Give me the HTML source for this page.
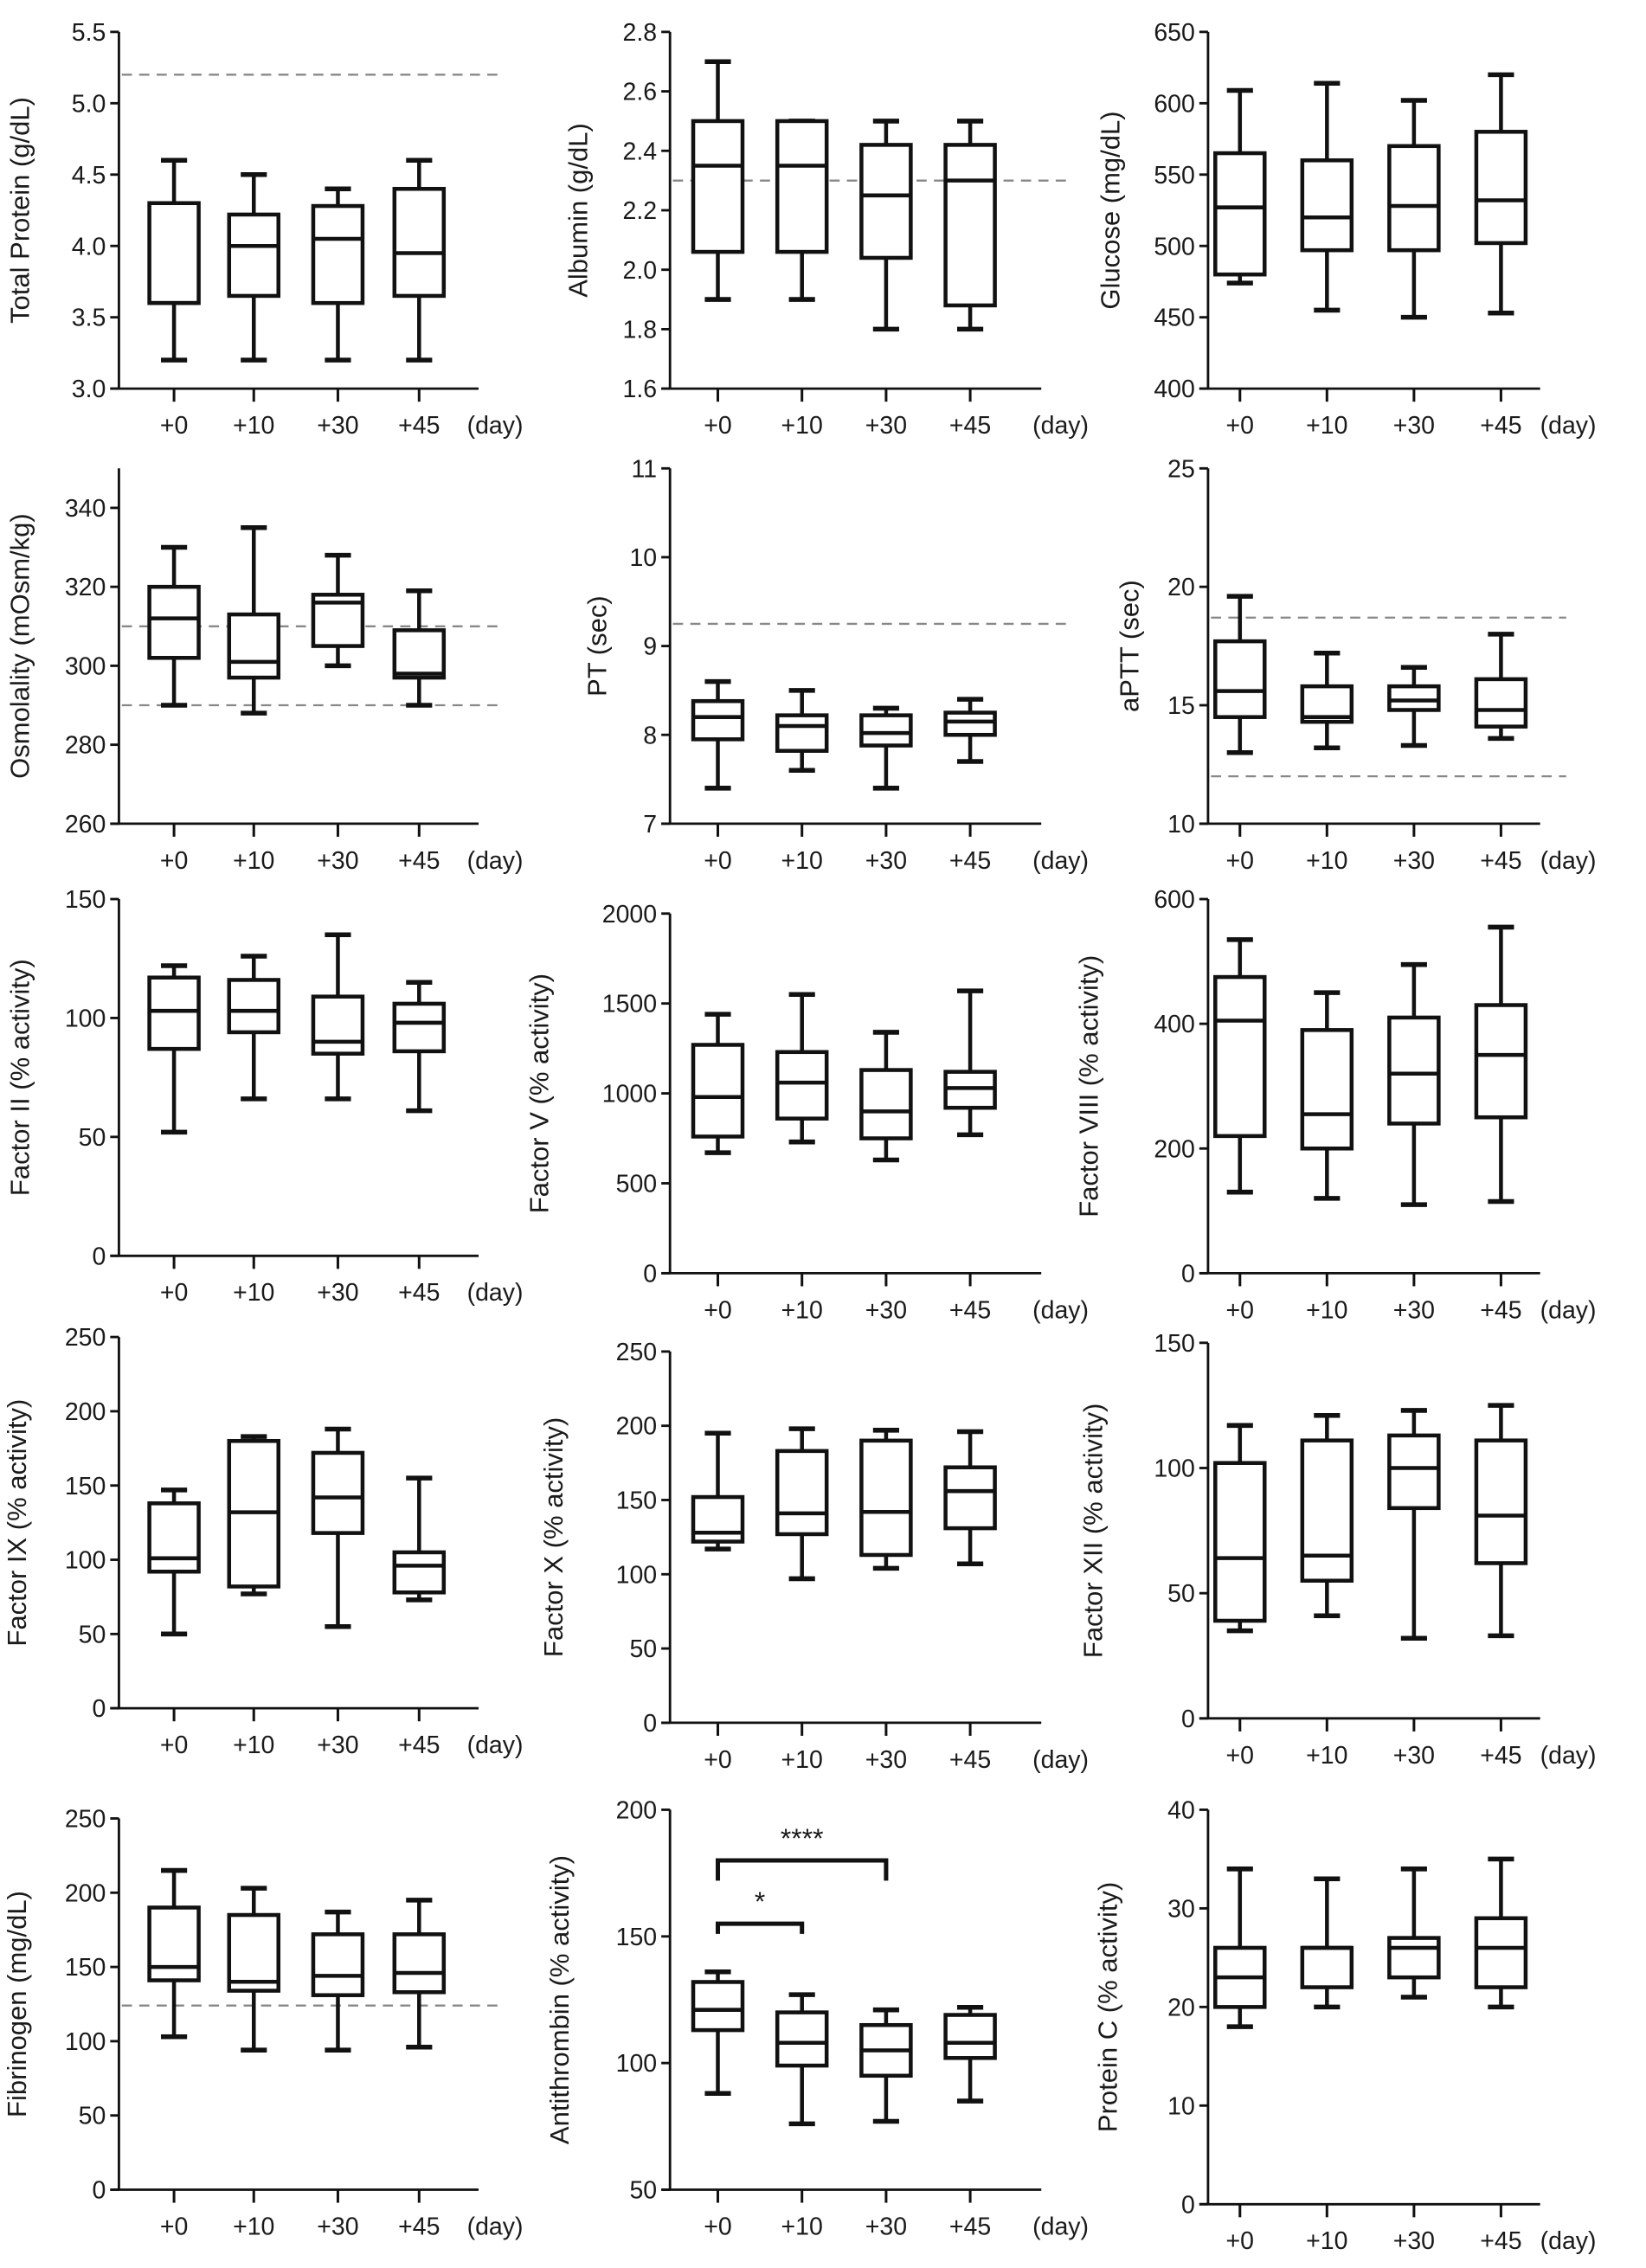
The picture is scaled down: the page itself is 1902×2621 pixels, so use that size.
<!DOCTYPE html>
<html><head><meta charset="utf-8"><style>
html,body{margin:0;padding:0;background:#fff;}
svg{display:block;}
text{font-family:"Liberation Sans","DejaVu Sans",sans-serif;fill:#1a1a1a;}
</style></head><body>
<svg id="fig" xmlns="http://www.w3.org/2000/svg" width="1902" height="2621" viewBox="0 0 1135 1564" preserveAspectRatio="none"></svg>
<script>
// ---- data: [min, q1, median, q3, max] per day ----
const days = ["+0","+10","+30","+45"];
const totalProtein = [[3.2,3.6,3.6,4.3,4.6],[3.2,3.65,4.0,4.22,4.5],[3.2,3.6,4.05,4.28,4.4],[3.2,3.65,3.95,4.4,4.6]];
const albumin = [[1.9,2.06,2.35,2.5,2.7],[1.9,2.06,2.35,2.5,2.5],[1.8,2.04,2.25,2.42,2.5],[1.8,1.88,2.3,2.42,2.5]];
const glucose = [[474,480,527,565,609],[455,497,520,560,614],[450,497,528,570,602],[453,502,532,580,620]];
const osmolality = [[290,302,312,320,330],[288,297,301,313,335],[300,305,316,318,328],[290,297,298,309,319]];
const pt = [[7.4,7.95,8.2,8.38,8.6],[7.6,7.82,8.1,8.22,8.5],[7.4,7.88,8.02,8.22,8.3],[7.7,8.0,8.15,8.25,8.4]];
const aptt = [[13.0,14.5,15.6,17.7,19.6],[13.2,14.3,14.5,15.8,17.2],[13.3,14.8,15.2,15.8,16.6],[13.6,14.1,14.8,16.1,18.0]];
const factor2 = [[52,87,103,117,122],[66,94,103,116,126],[66,85,90,109,135],[61,86,98,106,115]];
const factor5 = [[670,760,980,1270,1440],[730,860,1060,1230,1550],[630,750,900,1130,1340],[770,920,1030,1120,1570]];
const factor8 = [[130,220,405,475,535],[120,200,255,390,450],[110,240,320,410,495],[115,250,350,430,555]];
const factor9 = [[50,92,101,138,147],[77,82,132,180,183],[55,118,142,172,188],[73,78,96,105,155]];
const factor10 = [[117,122,128,152,195],[97,127,141,183,198],[104,113,142,190,197],[107,131,156,172,196]];
const factor12 = [[35,39,64,102,117],[41,55,65,111,121],[32,84,100,113,123],[33,62,81,111,125]];
const fibrinogen = [[103,141,150,190,215],[94,134,140,185,203],[94,131,144,172,187],[96,133,146,172,195]];
const antithrombin = [[88,113,121,132,136],[76,99,108,120,127],[77,95,105,115,121],[85,102,108,119,122]];
const proteinC = [[18,20,23,26,34],[20,22,26,26,33],[21,23,26,27,34],[20,22,26,29,35]];
// tick labels
const ticksTP = ["3.0","3.5","4.0","4.5","5.0","5.5"];
const ticksAlb = ["1.6","1.8","2.0","2.2","2.4","2.6","2.8"];
const ticksGlu = ["400","450","500","550","600","650"];
const ticksOsm = ["260","280","300","320","340"];
const ticksPT = ["7","8","9","10","11"];
const ticksAPTT = ["10","15","20","25"];
const ticks150 = ["0","50","100","150"];
const ticks2000 = ["0","500","1000","1500","2000"];
const ticks600 = ["0","200","400","600"];
const ticks250 = ["0","50","100","150","200","250"];
const ticksAT = ["50","100","150","200"];
const ticksPC = ["0","10","20","30","40"];
// reference lines
const refTP = [5.2];
const refAlb = [2.3];
const refOsm = [310,290];
const refPT = [9.25];
const refAPTT = [18.7,12];
const refFib = [124];

const svg = document.getElementById('fig');
const NS = "http://www.w3.org/2000/svg";
function mk(tag, attrs, parent){ const e=document.createElementNS(NS,tag); for(const k in attrs) e.setAttribute(k,attrs[k]); (parent||svg).appendChild(e); return e; }

const colCats = [[120,175,233,289],[495,553,611,669],[855,915,975,1035]];
const colAxis = [82,462,833];
const colEnd = [330,718,1062];
const colDay = [322,712,1062];

function panel(p){
  const g = mk('g',{});
  
  
  const ax = colAxis[p.col], xe = colEnd[p.col], cats = colCats[p.col];
  const y = v => p.yBot - (v - p.dmin)/(p.dmax - p.dmin)*(p.yBot - p.yTop);
  const axTop = p.yTop;
  const ya = mk('line',{x1:ax,y1:axTop,x2:ax,y2:p.yBot,stroke:'#111','stroke-width':1.7},g);
   
  const xa = mk('line',{x1:ax-6,y1:p.yBot,x2:xe,y2:p.yBot,stroke:'#111','stroke-width':1.7},g);
   
  p.ticks.forEach(t=>{
    const v=parseFloat(t), yy=y(v);
    mk('line',{x1:ax-6,y1:yy,x2:ax,y2:yy,stroke:'#111','stroke-width':1.7},g);
    const tx=mk('text',{x:ax-9,y:yy+6,'font-size':17,'text-anchor':'end'},g);
    tx.textContent=t;
     
  });
  days.forEach((d,i)=>{
    mk('line',{x1:cats[i],y1:p.yBot,x2:cats[i],y2:p.yBot+9,stroke:'#111','stroke-width':1.8},g);
    const tx=mk('text',{x:cats[i],y:p.yBot+31,'font-size':17,'text-anchor':'middle'},g);
    tx.textContent=d;
     
  });
  const dy=mk('text',{x:colDay[p.col],y:p.yBot+31,'font-size':17},g);
  dy.textContent='(day)';
   
  const ty=(axTop+p.yBot)/2;
  const tt=mk('text',{x:p.tx,y:ty,'font-size':18.5,'text-anchor':'middle',transform:`rotate(-90 ${p.tx} ${ty})`},g);
  tt.textContent=p.title;
   
  (p.refs||[]).forEach(r=>{
    const l=mk('line',{x1:ax+2,y1:y(r),x2:xe+18,y2:y(r),stroke:'#888','stroke-width':1.4,'stroke-dasharray':'7,5'},g);
     
  });
  p.data.forEach((b,i)=>{
    const cx=cats[i], hw=17, cw=9;
    const bg=mk('g',{stroke:'#111','stroke-width':2.7,fill:'none'},g);
    
    
    mk('line',{x1:cx,y1:y(b[0]),x2:cx,y2:y(b[1])},bg);
    mk('line',{x1:cx,y1:y(b[3]),x2:cx,y2:y(b[4])},bg);
    mk('line',{x1:cx-cw,y1:y(b[0]),x2:cx+cw,y2:y(b[0]),'stroke-width':3.3},bg);
    mk('line',{x1:cx-cw,y1:y(b[4]),x2:cx+cw,y2:y(b[4]),'stroke-width':3.3},bg);
    mk('rect',{x:cx-hw,y:y(b[3]),width:hw*2,height:y(b[1])-y(b[3]),fill:'#fff'},bg);
    mk('line',{x1:cx-hw,y1:y(b[2]),x2:cx+hw,y2:y(b[2])},bg);
  });
  (p.sig||[]).forEach(s=>{
    const x1=cats[s.a], x2=cats[s.b], yt=y(s.v), yl=y(s.leg);
    const br=mk('polyline',{points:`${x1},${yl} ${x1},${yt} ${x2},${yt} ${x2},${yl}`,fill:'none',stroke:'#111','stroke-width':3},g);
     
    const st=mk('text',{x:(x1+x2)/2,y:yt-9,'font-size':19,'text-anchor':'middle'},g);
    st.textContent=s.label;
     
  });
}

panel({name:'total-protein',col:0,yTop:22,yBot:268,dmin:3,dmax:5.5,ticks:ticksTP,data:totalProtein,refs:refTP,title:'Total Protein (g/dL)',tx:20});
panel({name:'albumin',col:1,yTop:22,yBot:268,dmin:1.6,dmax:2.8,ticks:ticksAlb,data:albumin,refs:refAlb,title:'Albumin (g/dL)',tx:405});
panel({name:'glucose',col:2,yTop:22,yBot:268,dmin:400,dmax:650,ticks:ticksGlu,data:glucose,title:'Glucose (mg/dL)',tx:772});
panel({name:'osmolality',col:0,yTop:323,yBot:568,dmin:260,dmax:350,ticks:ticksOsm,data:osmolality,refs:refOsm,title:'Osmolality (mOsm/kg)',tx:20});
panel({name:'pt',col:1,yTop:323,yBot:568,dmin:7,dmax:11,ticks:ticksPT,data:pt,refs:refPT,title:'PT (sec)',tx:418});
panel({name:'aptt',col:2,yTop:323,yBot:568,dmin:10,dmax:25,ticks:ticksAPTT,data:aptt,refs:refAPTT,title:'aPTT (sec)',tx:785});
panel({name:'factor-ii',col:0,yTop:620,yBot:866,dmin:0,dmax:150,ticks:ticks150,data:factor2,title:'Factor II (% activity)',tx:20});
panel({name:'factor-v',col:1,yTop:630,yBot:878,dmin:0,dmax:2000,ticks:ticks2000,data:factor5,title:'Factor V (% activity)',tx:378});
panel({name:'factor-viii',col:2,yTop:620,yBot:878,dmin:0,dmax:600,ticks:ticks600,data:factor8,title:'Factor VIII (% activity)',tx:757});
panel({name:'factor-ix',col:0,yTop:922,yBot:1178,dmin:0,dmax:250,ticks:ticks250,data:factor9,title:'Factor IX (% activity)',tx:18});
panel({name:'factor-x',col:1,yTop:932,yBot:1188,dmin:0,dmax:250,ticks:ticks250,data:factor10,title:'Factor X (% activity)',tx:388});
panel({name:'factor-xii',col:2,yTop:926,yBot:1185,dmin:0,dmax:150,ticks:ticks150,data:factor12,title:'Factor XII (% activity)',tx:760});
panel({name:'fibrinogen',col:0,yTop:1254,yBot:1510,dmin:0,dmax:250,ticks:ticks250,data:fibrinogen,refs:refFib,title:'Fibrinogen (mg/dL)',tx:18});
panel({name:'antithrombin',col:1,yTop:1248,yBot:1510,dmin:50,dmax:200,ticks:ticksAT,data:antithrombin,title:'Antithrombin (% activity)',tx:392,
  sig:[{a:0,b:1,v:155,leg:151,label:'*'},{a:0,b:2,v:180,leg:172,label:'****'}]});
panel({name:'protein-c',col:2,yTop:1248,yBot:1520,dmin:0,dmax:40,ticks:ticksPC,data:proteinC,title:'Protein C (% activity)',tx:770});
</script>
</body></html>
